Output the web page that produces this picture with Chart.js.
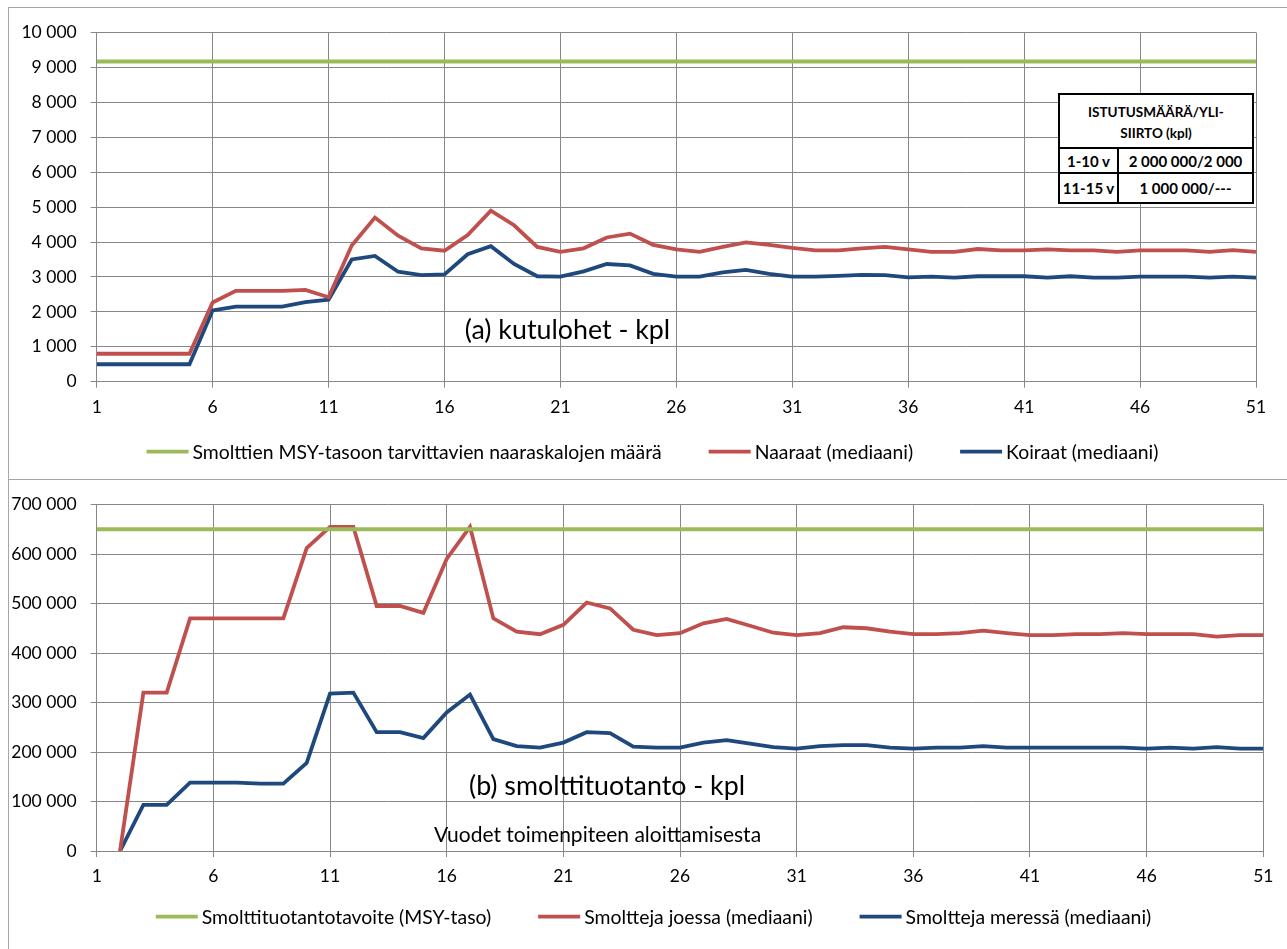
<!DOCTYPE html>
<html>
<head>
<meta charset="utf-8">
<script src="https://cdn.jsdelivr.net/npm/chart.js@4.4.1/dist/chart.umd.min.js"></script>
<style>
html,body{margin:0;padding:0;background:#fff;}
body{width:1287px;height:949px;position:relative;overflow:hidden;font-family:Lato,sans-serif;}
.box{position:absolute;left:8px;width:1279px;border-left:1px solid #a6a6a6;border-top:1px solid #a6a6a6;box-sizing:border-box;}
#box1{top:7px;height:472px;}
#box2{top:479px;height:470px;}
canvas{position:absolute;}
#c1{left:9px;top:8px;}
#c2{left:9px;top:480px;}
#tbl{position:absolute;left:1058px;top:93px;width:196px;height:109px;border-collapse:collapse;background:#fff;font-family:Lato,sans-serif;font-weight:bold;color:#000;}
#tbl td{border:2px solid #000;text-align:center;padding:0;white-space:nowrap;}
#tbl .h{height:45px;font-size:13.5px;line-height:21px;padding-top:7px;vertical-align:top;}
#tbl .r1 td{height:23px;font-size:15px;}
#tbl .r2 td{height:28px;font-size:15px;}
</style>
</head>
<body>
<div class="box" id="box1"></div>
<div class="box" id="box2"></div>
<canvas id="c1" width="1278" height="471"></canvas>
<canvas id="c2" width="1278" height="469"></canvas>
<table id="tbl">
  <tr><td class="h" colspan="2">ISTUTUSMÄÄRÄ/YLI-<br>SIIRTO (kpl)</td></tr>
  <tr class="r1"><td style="width:57px">1-10 v</td><td>2 000 000/2 000</td></tr>
  <tr class="r2"><td>11-15 v</td><td>1 000 000/---</td></tr>
</table>
<script>
// ---------- DATA ----------
const years = [1,2,3,4,5,6,7,8,9,10,11,12,13,14,15,16,17,18,19,20,21,22,23,24,25,26,27,28,29,30,31,32,33,34,35,36,37,38,39,40,41,42,43,44,45,46,47,48,49,50,51];

// (a) kutulohet
const msyFemales = [9170,9170,9170,9170,9170,9170,9170,9170,9170,9170,9170,9170,9170,9170,9170,9170,9170,9170,9170,9170,9170,9170,9170,9170,9170,9170,9170,9170,9170,9170,9170,9170,9170,9170,9170,9170,9170,9170,9170,9170,9170,9170,9170,9170,9170,9170,9170,9170,9170,9170,9170];
const naaraat = [800,800,800,800,800,2270,2600,2600,2600,2630,2420,3900,4700,4180,3820,3750,4200,4900,4480,3860,3720,3820,4130,4240,3920,3790,3720,3860,3990,3920,3830,3760,3760,3820,3860,3790,3720,3720,3800,3760,3760,3790,3760,3760,3720,3760,3760,3760,3720,3770,3720];
const koiraat = [500,500,500,500,500,2040,2150,2150,2150,2280,2350,3500,3600,3150,3050,3070,3650,3880,3370,3020,3010,3160,3370,3330,3090,3010,3010,3130,3200,3090,3010,3010,3030,3060,3050,2990,3010,2980,3020,3020,3020,2980,3020,2980,2980,3010,3010,3010,2980,3010,2980];

// (b) smolttituotanto
const smoltTarget = [650000,650000,650000,650000,650000,650000,650000,650000,650000,650000,650000,650000,650000,650000,650000,650000,650000,650000,650000,650000,650000,650000,650000,650000,650000,650000,650000,650000,650000,650000,650000,650000,650000,650000,650000,650000,650000,650000,650000,650000,650000,650000,650000,650000,650000,650000,650000,650000,650000,650000,650000];
const smoltRiver = [null,0,320000,320000,470000,470000,470000,470000,470000,612000,655000,655000,495000,495000,481000,590000,655000,470000,443000,438000,457000,502000,490000,447000,436000,440000,460000,469000,455000,441000,436000,440000,452000,450000,443000,438000,438000,440000,445000,440000,436000,436000,438000,438000,440000,438000,438000,438000,433000,436000,436000];
const smoltSea = [null,0,93000,93000,138000,138000,138000,136000,136000,178000,318000,320000,240000,240000,228000,280000,316000,226000,212000,209000,219000,240000,238000,211000,209000,209000,219000,224000,217000,210000,207000,212000,214000,214000,209000,207000,209000,209000,212000,209000,209000,209000,209000,209000,209000,207000,209000,207000,210000,207000,207000];

const xTickLabels = [1,6,11,16,21,26,31,36,41,46,51];
const labelsA = ['Smolttien MSY-tasoon tarvittavien naaraskalojen määrä','Naaraat (mediaani)','Koiraat (mediaani)'];
const labelsB = ['Smolttituotantotavoite (MSY-taso)','Smoltteja joessa (mediaani)','Smoltteja meressä (mediaani)'];

// ---------- STYLE ----------
const GREEN = '#9bbb59', RED = '#c0504d', BLUE = '#1f497d';
const GRID = '#878787';
const FONT = 'Lato';
const TICK_SIZE = 17.5;

function fmt(v){ return String(v).replace(/\B(?=(\d{3})+(?!\d))/g,' '); }
function pts(arr){ return years.map((y,i)=>({x:y,y:arr[i]})); }

const overlayPlugin = {
  id:'overlay',
  afterDraw(chart, args, opts){
    const ctx = chart.ctx; ctx.save();
    const L = opts.legend;
    ctx.font = L.size + 'px ' + FONT;
    ctx.textBaseline = 'middle'; ctx.textAlign = 'left';
    const items = chart.data.datasets.map(d=>({label:d.label,color:d.borderColor,w:ctx.measureText(d.label).width}));
    const total = items.reduce((s,it)=>s+L.sample+L.gap+it.w,0) + L.itemGap*(items.length-1);
    let x = L.cx - total/2;
    items.forEach(it=>{
      ctx.strokeStyle = it.color; ctx.lineWidth = L.lw; ctx.lineCap='butt';
      ctx.beginPath(); ctx.moveTo(x, L.y); ctx.lineTo(x+L.sample, L.y); ctx.stroke();
      ctx.fillStyle = '#000';
      ctx.fillText(it.label, x+L.sample+L.gap, L.y+1);
      x += L.sample + L.gap + it.w + L.itemGap;
    });
    (opts.texts||[]).forEach(t=>{
      ctx.font = t.size + 'px ' + FONT;
      ctx.textAlign = 'center'; ctx.textBaseline = 'middle';
      ctx.fillStyle = '#000';
      ctx.fillText(t.text, t.x, t.y);
    });
    ctx.restore();
  }
};

function makeChart(id, datasets, yMax, yStep, pad, xHeight, overlay){
  return new Chart(document.getElementById(id), {
    type:'line',
    data:{ datasets },
    options:{
      responsive:false, animation:false, devicePixelRatio:1,
      layout:{ padding:{left:0, top:pad.top, right:pad.right, bottom:0} },
      plugins:{ legend:{display:false}, tooltip:{enabled:false}, overlay },
      elements:{ point:{radius:0}, line:{tension:0, borderWidth:3.8, borderCapStyle:'butt', borderJoinStyle:'miter'} },
      scales:{
        x:{
          type:'linear', min:1, max:51,
          afterBuildTicks(s){ s.ticks = xTickLabels.map(v=>({value:v})); },
          afterFit(s){ s.height = xHeight; },
          grid:{ color:GRID, lineWidth:1, tickLength:6, drawTicks:true },
          border:{ color:GRID, width:1 },
          ticks:{ color:'#000', font:{family:FONT, size:TICK_SIZE}, padding:9, maxRotation:0, autoSkip:false, callback:(v)=>String(v) }
        },
        y:{
          min:0, max:yMax,
          afterFit(s){ s.width = 87.7; },
          grid:{ color:GRID, lineWidth:1, tickLength:6 },
          border:{ color:GRID, width:1 },
          ticks:{ stepSize:yStep, color:'#000', font:{family:FONT, size:TICK_SIZE}, padding:14, callback:(v)=>fmt(v) }
        }
      }
    },
    plugins:[overlayPlugin]
  });
}

makeChart('c1', [
  {label:labelsA[0], data:pts(msyFemales), borderColor:GREEN},
  {label:labelsA[1], data:pts(naaraat), borderColor:RED},
  {label:labelsA[2], data:pts(koiraat), borderColor:BLUE}
], 10000, 1000, {top:22, right:31}, 97.3, {
  legend:{size:19.4, sample:42, gap:4, itemGap:47, lw:3.8, cx:643.5, y:443.7},
  texts:[{text:'(a) kutulohet - kpl', size:26.8, x:558.5, y:322}]
});

makeChart('c2', [
  {label:labelsB[0], data:pts(smoltTarget), borderColor:GREEN},
  {label:labelsB[1], data:pts(smoltRiver), borderColor:RED},
  {label:labelsB[2], data:pts(smoltSea), borderColor:BLUE}
], 700000, 100000, {top:9.3, right:23.7}, 98, {
  legend:{size:19.4, sample:42, gap:4, itemGap:47, lw:3.8, cx:644.5, y:436.7},
  texts:[
    {text:'(b) smolttituotanto - kpl', size:26.8, x:598, y:306.7},
    {text:'Vuodet toimenpiteen aloittamisesta', size:21, x:588.5, y:355}
  ]
});
</script>
</body>
</html>
